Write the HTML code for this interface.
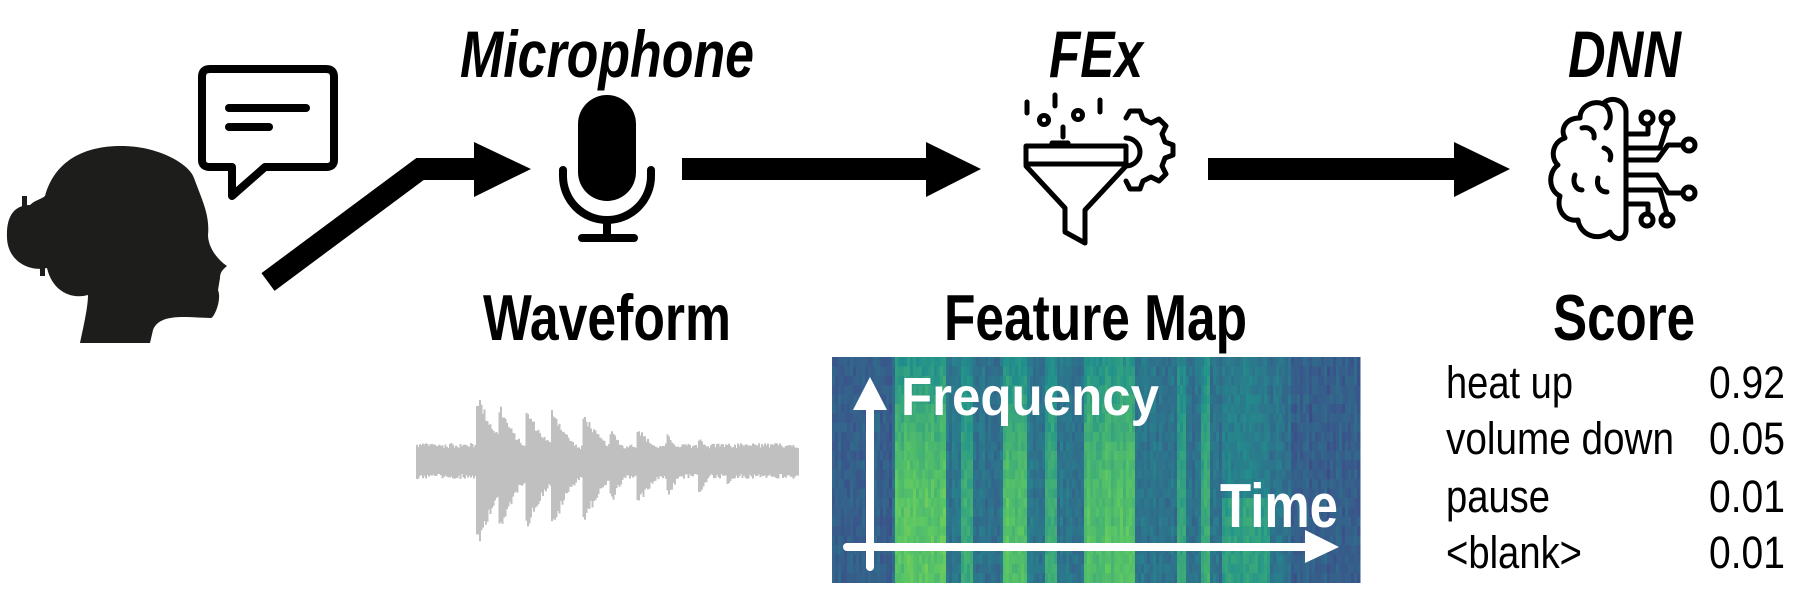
<!DOCTYPE html>
<html><head><meta charset="utf-8">
<style>
html,body{margin:0;padding:0;background:#fff;}
svg{display:block;}
text{font-family:"Liberation Sans",Arial,sans-serif;}
</style></head>
<body>
<svg id="s" width="1812" height="606" viewBox="0 0 1812 606" xmlns="http://www.w3.org/2000/svg">
<rect width="1812" height="606" fill="#fff"/>
<!-- head -->
<path fill="#1d1d1b" d="M80,343 C85,320 88,305 88,295 C70,300 52,290 47,268 C30,272 8,262 7,238 C6,215 15,205 30,205 C35,200 40,200 45,196 C55,160 85,146 121,146 C160,146 190,165 194,178 C202,200 210,215 208,235 C208,245 215,258 227,266 C222,270 220,273 220,278 L218,290 C222,300 214,318 211,318 C190,318 160,312 153,330 L150,343 Z"/>
<rect x="22" y="196" width="5" height="12" fill="#1d1d1b"/>
<rect x="40" y="262" width="5" height="14" fill="#1d1d1b"/>
<!-- speech bubble -->
<path d="M210,69 H326 Q334,69 334,77 V160 Q334,167 326,167 H265 L232,196 L232,167 H210 Q202,167 202,160 V77 Q202,69 210,69 Z" fill="none" stroke="#000" stroke-width="8" stroke-linejoin="round"/>
<line x1="229" y1="108" x2="306" y2="108" stroke="#000" stroke-width="8" stroke-linecap="round"/>
<line x1="229" y1="127" x2="269" y2="127" stroke="#000" stroke-width="8" stroke-linecap="round"/>
<!-- arrow 1 -->
<polyline points="268,282 420,169 476,169" fill="none" stroke="#000" stroke-width="22" stroke-linejoin="miter"/>
<polygon points="474,142 531,169 474,197" fill="#000"/>
<!-- mic -->
<rect x="578" y="95" width="58" height="106" rx="29" fill="#000"/>
<path d="M563,170 V176 A44,44 0 0 0 651,176 V170" fill="none" stroke="#000" stroke-width="8" stroke-linecap="round"/>
<line x1="607" y1="219" x2="607" y2="236" stroke="#000" stroke-width="8"/>
<line x1="582" y1="238" x2="634" y2="238" stroke="#000" stroke-width="8" stroke-linecap="round"/>
<!-- arrow 2 -->
<rect x="682" y="158" width="246" height="22" fill="#000"/>
<polygon points="926,142 981,169 926,197" fill="#000"/>
<!-- funnel + gear -->
<g fill="none" stroke="#000" stroke-width="5" stroke-linecap="round" stroke-linejoin="round">
<path d="M1126,118 l4,-7 h10 l3,8 l8,4 l8,-4 l7,7 l-4,8 l3,8 l8,3 v10 l-8,3 l-3,8 l4,8 l-7,7 l-8,-4 l-8,4 l-3,8 h-10 l-4,-8"/>
<path d="M1126,138 A14,14 0 0 1 1126,166"/>
<rect x="1026" y="146" width="100" height="18"/>
<path d="M1026,166 L1065,208 L1065,232 L1085,243 L1085,210 L1126,166"/>
<line x1="1027" y1="102" x2="1027" y2="113"/>
<line x1="1055" y1="95" x2="1055" y2="106"/>
<line x1="1100" y1="100" x2="1100" y2="112"/>
<line x1="1063" y1="127" x2="1063" y2="137"/>
<line x1="1052" y1="143" x2="1068" y2="143"/>
<circle cx="1044" cy="120" r="4.5"/>
<circle cx="1078" cy="115" r="4.5"/>
</g>
<!-- arrow 3 -->
<rect x="1208" y="158" width="248" height="22" fill="#000"/>
<polygon points="1454,142 1510,169 1454,197" fill="#000"/>
<!-- brain -->
<g fill="none" stroke="#000" stroke-width="5" stroke-linecap="round" stroke-linejoin="round">
<path d="M1626,112 C1626,100 1610,95 1603,104 C1595,100 1580,105 1580,118 C1565,118 1560,130 1565,138 C1552,142 1550,158 1558,165 C1548,172 1548,190 1560,196 C1556,210 1565,222 1578,220 C1580,235 1598,242 1610,232 C1615,242 1626,240 1626,230 Z"/>
<path d="M1582,128 C1590,126 1595,132 1594,138"/>
<path d="M1604,148 C1610,150 1612,155 1610,160"/>
<path d="M1575,175 C1572,183 1576,190 1582,190"/>
<path d="M1598,178 C1596,186 1600,192 1607,192"/>
<path d="M1604,104 C1612,110 1612,122 1606,128"/>
<path d="M1626,134 H1648 V124"/>
<path d="M1626,148 H1660 L1667,126"/>
<path d="M1626,160 H1657 L1668,145 H1683"/>
<path d="M1626,175 H1657 L1668,193 H1683"/>
<path d="M1626,190 H1660 L1667,214"/>
<path d="M1626,204 H1648 V214"/>
<circle cx="1647" cy="118" r="6"/><circle cx="1667" cy="118" r="6"/>
<circle cx="1689" cy="145" r="6"/><circle cx="1689" cy="193" r="6"/>
<circle cx="1647" cy="220" r="6"/><circle cx="1667" cy="220" r="6"/>
</g>
<!-- titles -->
<g font-weight="bold" font-style="italic" font-size="66" fill="#000">
<text x="460" y="77" textLength="294" lengthAdjust="spacingAndGlyphs">Microphone</text>
<text x="1049" y="77" textLength="94" lengthAdjust="spacingAndGlyphs">FEx</text>
<text x="1568" y="77" textLength="113" lengthAdjust="spacingAndGlyphs">DNN</text>
</g>
<g font-weight="bold" font-size="65" fill="#000">
<text x="483" y="340" textLength="248" lengthAdjust="spacingAndGlyphs">Waveform</text>
<text x="944" y="340" textLength="303" lengthAdjust="spacingAndGlyphs">Feature Map</text>
<text x="1553" y="340" textLength="142" lengthAdjust="spacingAndGlyphs">Score</text>
</g>
<!-- waveform -->
<g id="wave" fill="#c0c0c0"></g>
<!-- spectrogram -->
<rect x="832" y="357" width="526" height="226" fill="#2c6f8c"/>
<g id="spec"></g>
<g stroke="#fff" stroke-width="8" stroke-linecap="round">
<line x1="870" y1="567" x2="870" y2="405"/>
<line x1="847" y1="547" x2="1310" y2="547"/>
</g>
<polygon points="853,410 870,377 887,410" fill="#fff"/>
<polygon points="1305,530 1339,547 1305,563" fill="#fff"/>
<g font-weight="bold" fill="#fff">
<text x="901" y="415" font-size="54" textLength="258" lengthAdjust="spacingAndGlyphs">Frequency</text>
<text x="1220" y="527" font-size="62" textLength="118" lengthAdjust="spacingAndGlyphs">Time</text>
</g>
<!-- score table -->
<g font-size="45" fill="#000">
<text x="1446" y="398" textLength="127" lengthAdjust="spacingAndGlyphs">heat up</text>
<text x="1446" y="454" textLength="228" lengthAdjust="spacingAndGlyphs">volume down</text>
<text x="1446" y="512" textLength="104" lengthAdjust="spacingAndGlyphs">pause</text>
<text x="1446" y="568" textLength="136" lengthAdjust="spacingAndGlyphs">&lt;blank&gt;</text>
<text x="1709" y="398" textLength="76" lengthAdjust="spacingAndGlyphs">0.92</text>
<text x="1709" y="454" textLength="76" lengthAdjust="spacingAndGlyphs">0.05</text>
<text x="1709" y="512" textLength="76" lengthAdjust="spacingAndGlyphs">0.01</text>
<text x="1709" y="568" textLength="76" lengthAdjust="spacingAndGlyphs">0.01</text>
</g>
</svg>
<script>
(function(){
var NS="http://www.w3.org/2000/svg";
var seed=12345;function rnd(){seed=(seed*1103515245+12345)&0x7fffffff;return seed/0x7fffffff;}
// waveform
var w=document.getElementById('wave');
var bursts=[[478,14,1.0],[500,12,0.85],[528,14,0.75],[553,12,0.8],[585,14,0.7],[612,10,0.45],[638,14,0.5],[668,10,0.4],[700,10,0.35],[728,10,0.28]];
for(var x=416;x<798;x+=1.5){
 var a=0.18;
 for(var i=0;i<bursts.length;i++){var b=bursts[i];var d=x-b[0];if(d>-3&&d<b[1]*3){a=Math.max(a,b[2]*Math.exp(-Math.max(d,0)/(b[1]*1.6)));}}
 var up=(a*67)*(0.8+0.2*rnd()), dn=(a*89)*(0.8+0.2*rnd());
 if(a<=0.2){up=13+5*rnd();dn=13+5*rnd();}
 var r=document.createElementNS(NS,'rect');
 r.setAttribute('x',x);r.setAttribute('width',2);r.setAttribute('y',461-up);r.setAttribute('height',up+dn);
 w.appendChild(r);
}
// spectrogram
function vir(t){t=Math.max(0,Math.min(1,t));
 var c=[[68,1,84],[59,82,139],[33,145,140],[94,201,98],[253,231,37]];
 var p=t*4,i=Math.min(3,Math.floor(p)),f=p-i;
 return 'rgb('+[0,1,2].map(function(k){return Math.round(c[i][k]+(c[i+1][k]-c[i][k])*f);}).join(',')+')';}
var sp=document.getElementById('spec');
var bright=[[894,945,0.9],[960,972,0.7],[1002,1026,0.85],[1045,1055,0.7],[1083,1134,0.85],[1175,1185,0.65],[1200,1210,0.7],[1222,1269,0.6]];
var cw=3,rh=9.4;
for(var x=832;x<1358;x+=cw){
 var cb=0.3;
 for(var i=0;i<bright.length;i++){if(x>=bright[i][0]&&x<bright[i][1])cb=bright[i][2];}
 if(x<890)cb=0.2; if(x>1290)cb=0.2;
 var cn=(rnd()-0.5)*0.06;
 for(var y=357;y<583;y+=rh){
  var fy=(y-357)/226;
  var rowf=0.35+0.65*Math.sin(Math.min(1,fy*1.4)*Math.PI*0.5);
  if(x>=1222&&x<1269&&fy<0.6)rowf*=0.3;
  var v;
  if(cb<=0.3){v=(cb<0.25?0.30:0.38)+cn+(rnd()-0.5)*0.08;}
  else v=0.40+(cb-0.3)*rowf*0.55+cn+(rnd()-0.5)*0.08;
  var r=document.createElementNS(NS,'rect');
  r.setAttribute('x',x);r.setAttribute('y',y);r.setAttribute('width',cw+0.5);r.setAttribute('height',Math.min(rh+0.5,583-y));
  r.setAttribute('fill',vir(v));
  sp.appendChild(r);
 }
}
})();
</script>
</body></html>
